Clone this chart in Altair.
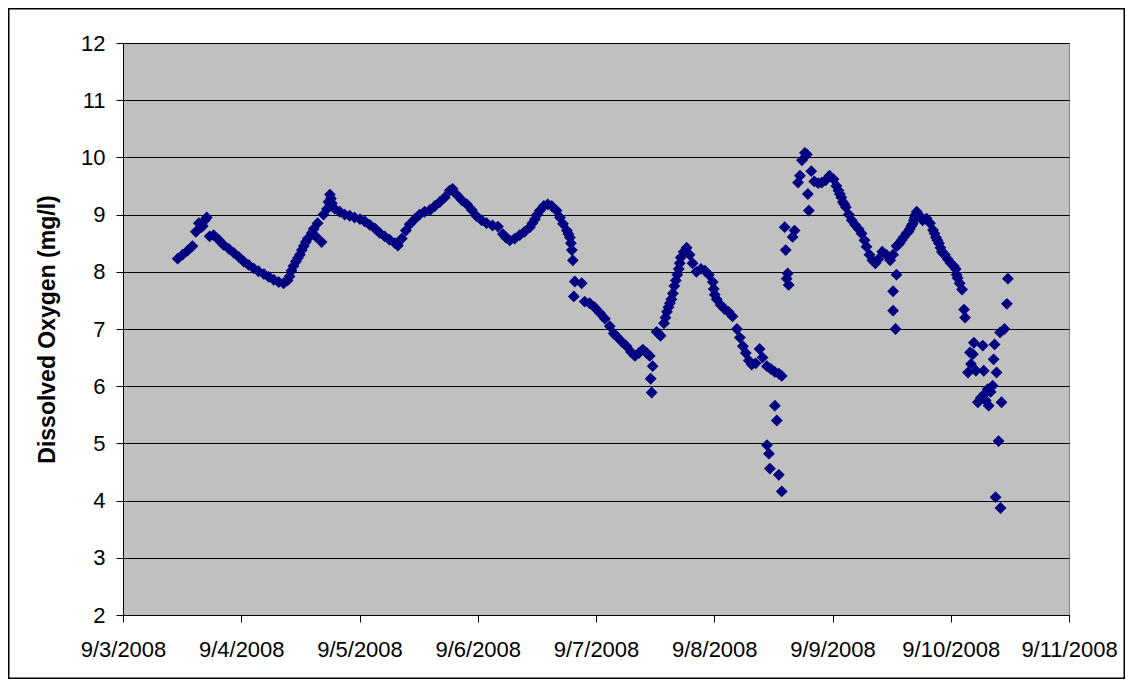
import altair as alt
import pandas as pd

# Hours after 2008-09-03 00:00 and dissolved oxygen readings (mg/l)
hours = [
    11.1, 12.1, 13.1, 14.1, 14.8, 15.4, 16.2, 17.0, 17.6, 18.4, 19.4, 20.4, 21.5, 22.5, 23.5,
    24.5, 25.5, 26.5, 27.5, 28.6, 29.6, 30.6, 31.6, 32.6, 33.4, 34.2, 35.1, 35.9, 36.7, 37.5,
    38.3, 39.1, 39.5, 40.3, 40.7, 41.4, 42.0, 42.4, 43.0, 44.0, 45.0, 46.0, 47.0, 48.1, 49.1,
    50.1, 51.1, 52.1, 53.1, 54.1, 55.2, 55.8, 56.6, 57.4, 58.2, 59.2, 60.2, 61.2, 62.3, 63.3,
    64.3, 65.3, 66.3, 66.9, 67.7, 68.8, 69.8, 70.8, 71.8, 72.8, 73.8, 75.0, 76.1, 77.1, 77.7,
    78.5, 79.5, 80.5, 81.5, 82.6, 83.6, 84.6, 85.4, 86.2, 87.0, 88.0, 88.7, 89.3, 90.1, 90.7,
    91.1, 91.3, 91.5, 91.7, 93.1, 93.7, 94.7, 95.7, 96.8, 97.8, 98.8, 99.6, 100.2, 101.2, 102.2,
    103.1, 103.9, 104.7, 105.5, 106.3, 106.9, 107.1, 107.3, 107.5, 108.3, 109.1, 109.8, 110.4, 111.0, 111.6,
    112.2, 112.8, 113.2, 113.8, 114.4, 115.0, 115.6, 116.4, 117.3, 118.1, 118.9, 119.7, 120.5, 121.3, 122.1,
    122.9, 123.7, 124.6, 125.2, 125.8, 126.4, 127.0, 127.6, 128.4, 129.2, 129.8, 130.7, 130.7, 131.1, 131.3,
    131.5, 132.3, 132.3, 132.7, 133.1, 133.1, 133.7, 133.7, 134.3, 134.5, 134.7, 134.9, 135.1, 135.9, 136.3,
    137.0, 137.4, 137.8, 138.4, 138.8, 139.0, 139.2, 139.7, 140.3, 141.1, 141.8, 142.6, 143.4, 144.2, 144.8,
    145.5, 146.1, 146.7, 147.3, 147.9, 148.6, 149.3, 149.9, 150.5, 150.9, 151.5, 152.1, 152.7, 153.3, 154.1,
    154.9, 155.7, 156.3, 156.3, 156.3, 156.8, 157.0, 157.0, 157.6, 158.4, 159.0, 159.7, 160.3, 160.7, 161.1,
    161.7, 162.3, 163.1, 163.8, 164.4, 165.0, 165.6, 166.2, 166.8, 167.4, 168.0, 168.6, 169.0, 169.4, 170.3,
    170.7, 170.9, 171.5, 171.9, 172.1, 172.5, 172.7, 173.1, 173.5, 174.1, 174.5, 174.7, 174.9, 175.1, 175.5,
    175.7, 176.1, 176.5, 176.7, 176.9, 177.1, 177.3, 177.7, 178.0, 178.1, 178.3, 178.9, 179.4, 179.6,
    # additional readings along the steeper parts of the record
    33.8, 34.6, 35.5, 36.3, 37.1, 83.1, 84.1, 90.4, 90.9, 108.7, 110.1, 110.7, 111.3, 111.9, 112.5,
    113.0, 119.9, 120.1, 145.2, 145.8, 146.4, 157.3, 158.0, 159.4, 160.0, 160.5, 160.9, 164.7, 165.3,
    165.9, 166.5, 169.2, 169.8, 41.7, 42.2, 38.7, 15.9, 16.6,
]
do_mgl = [
    8.23, 8.30, 8.37, 8.45, 8.70, 8.85, 8.80, 8.95, 8.62, 8.64, 8.56, 8.47, 8.40, 8.33, 8.26,
    8.18, 8.12, 8.06, 8.01, 7.96, 7.91, 7.86, 7.82, 7.80, 7.85, 8.02, 8.18, 8.30, 8.45, 8.58,
    8.68, 8.62, 8.85, 8.52, 9.00, 9.10, 9.35, 9.20, 9.10, 9.05, 9.00, 8.98, 8.95, 8.92, 8.88,
    8.82, 8.76, 8.68, 8.62, 8.56, 8.50, 8.46, 8.58, 8.72, 8.83, 8.92, 9.00, 9.05, 9.08, 9.15,
    9.22, 9.30, 9.42, 9.45, 9.35, 9.25, 9.18, 9.08, 8.97, 8.90, 8.85, 8.81, 8.79, 8.66, 8.60,
    8.55, 8.58, 8.64, 8.70, 8.78, 8.92, 9.07, 9.15, 9.18, 9.15, 9.07, 8.95, 8.84, 8.72, 8.60,
    8.38, 8.20, 7.57, 7.83, 7.80, 7.48, 7.45, 7.38, 7.28, 7.18, 7.05, 6.92, 6.87, 6.78, 6.70,
    6.60, 6.53, 6.58, 6.64, 6.58, 6.53, 6.13, 5.89, 6.35, 6.95, 6.88, 7.10, 7.30, 7.45, 7.62,
    7.85, 8.05, 8.25, 8.35, 8.42, 8.30, 8.15, 8.00, 8.05, 8.02, 7.95, 7.82, 7.52, 7.42, 7.35,
    7.30, 7.22, 7.00, 6.85, 6.70, 6.58, 6.45, 6.38, 6.40, 6.65, 6.50, 6.35, 4.97, 4.82, 4.56,
    6.30, 6.25, 5.66, 5.40, 6.22, 4.45, 6.18, 4.16, 8.78, 8.38, 7.88, 7.97, 7.77, 8.61, 8.72,
    9.56, 9.68, 9.95, 10.08, 10.05, 9.36, 9.07, 9.76, 9.58, 9.55, 9.56, 9.60, 9.68, 9.62, 9.50,
    9.36, 9.22, 9.13, 9.00, 8.90, 8.82, 8.75, 8.67, 8.55, 8.44, 8.30, 8.20, 8.15, 8.22, 8.35,
    8.30, 8.20, 8.30, 7.66, 7.32, 7.00, 7.95, 8.45, 8.50, 8.60, 8.67, 8.75, 8.84, 8.95, 9.05,
    8.98, 8.90, 8.93, 8.85, 8.73, 8.60, 8.50, 8.35, 8.30, 8.22, 8.15, 8.10, 8.05, 7.89, 7.69,
    7.34, 7.20, 6.24, 6.59, 6.39, 6.56, 6.76, 6.27, 5.72, 5.80, 6.71, 6.27, 5.87, 5.75, 5.95,
    5.66, 5.90, 6.01, 6.47, 6.73, 4.06, 6.24, 5.04, 6.94, 3.87, 5.72, 7.00, 7.44, 7.88,
    7.92, 8.10, 8.24, 8.38, 8.52, 8.85, 9.00, 8.66, 8.50, 6.92, 7.20, 7.38, 7.52, 7.75, 7.95,
    8.15, 7.70, 7.60, 9.42, 9.30, 9.18, 8.47, 8.55, 8.70, 8.80, 8.90, 9.00, 8.67, 8.55,
    8.42, 8.32, 7.95, 7.80, 9.22, 9.28, 8.75, 8.78, 8.90,
]
tick_days = [3, 4, 5, 6, 7, 8, 9, 10, 11]
y_ticks = [2, 3, 4, 5, 6, 7, 8, 9, 10, 11, 12]

base = pd.Timestamp("2008-09-03 00:00:00")
times = [(base + pd.Timedelta(hours=h)).strftime("%Y-%m-%dT%H:%M:%S") for h in hours]
df = pd.DataFrame({"time": times, "do": do_mgl})

FONT = "Liberation Sans"

points = alt.Chart(df).mark_point(
    shape="diamond", filled=True, size=140, color="#000080", opacity=1, strokeWidth=0
).encode(
    x=alt.X(
        "time:T",
        scale=alt.Scale(
            domain=[alt.DateTime(year=2008, month=9, date=tick_days[0]),
                    alt.DateTime(year=2008, month=9, date=tick_days[-1])],
            nice=False,
        ),
        axis=alt.Axis(
            values=[alt.DateTime(year=2008, month=9, date=d) for d in tick_days],
            format="%-m/%-d/%Y",
            title=None,
            grid=False,
            labelPadding=17,
            labelOverlap=False,
            labelFlush=False,
        ),
    ),
    y=alt.Y(
        "do:Q",
        scale=alt.Scale(domain=[y_ticks[0], y_ticks[-1]], nice=False, zero=False),
        axis=alt.Axis(
            values=y_ticks,
            title="Dissolved Oxygen (mg/l)",
            grid=True,
            labelPadding=11,
            titleX=-69,
            titleY=286,
            titleBaseline="alphabetic",
            titleAngle=270,
        ),
    ),
)

border = alt.Chart(pd.DataFrame({"a": [0]})).mark_rect(
    fillOpacity=0, stroke="black", strokeWidth=1.5
).encode(
    x=alt.value(-114.25), x2=alt.value(1001.25), y=alt.value(-34.25), y2=alt.value(635.25)
)

chart = alt.layer(border, points).properties(
    width=946,
    height=572,
    autosize=alt.AutoSizeParams(type="none"),
    padding={"left": 115, "top": 35, "right": 56, "bottom": 64},
    background="white",
).configure_view(
    fill="#C0C0C0", stroke="#808080", strokeWidth=1
).configure_axis(
    labelFont=FONT, labelFontSize=22, labelColor="black",
    titleFont=FONT, titleFontSize=23, titleFontWeight="bold", titleColor="black",
    domainColor="black", domainWidth=1, tickColor="black", tickSize=7, tickWidth=1,
    gridColor="black", gridWidth=1,
)

chart.save("out.html", embed_options={"renderer": "svg", "actions": False})
